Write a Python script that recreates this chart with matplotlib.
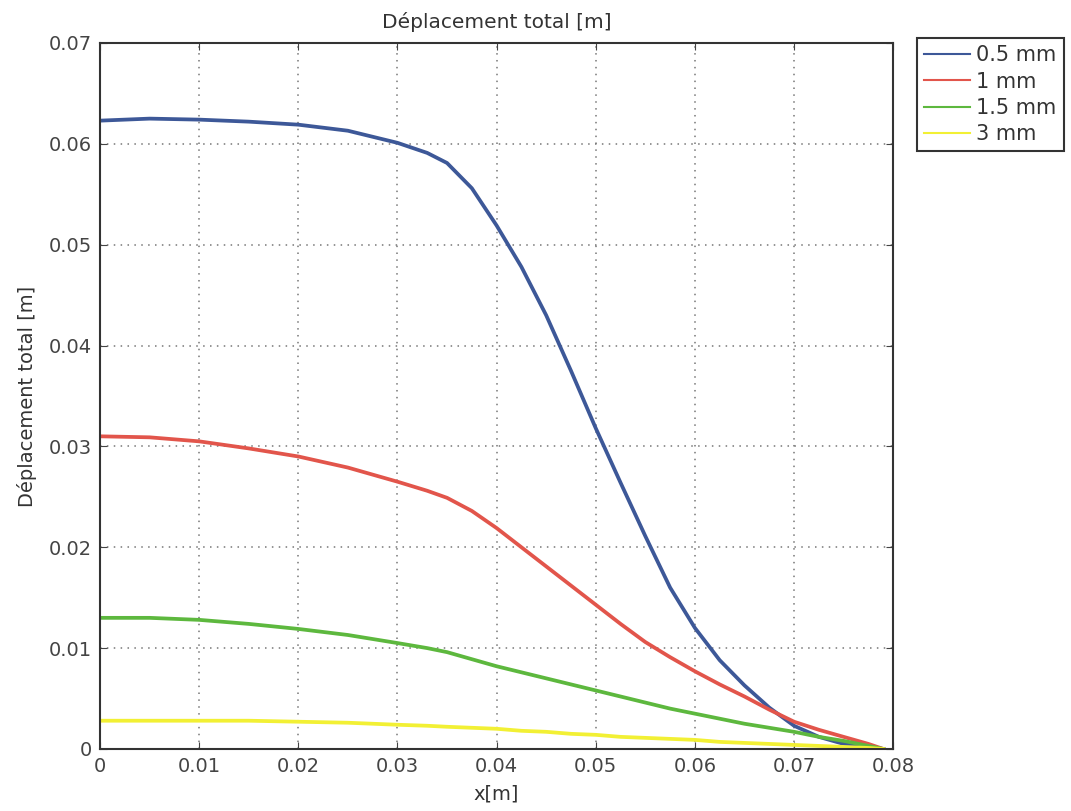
import matplotlib
matplotlib.use('Agg')
import matplotlib.pyplot as plt

# valeurs (x en m, déplacement en m)
x_vals = [0, 0.005, 0.01, 0.015, 0.02, 0.025, 0.03, 0.033, 0.035, 0.0375, 0.04, 0.0425,
          0.045, 0.0475, 0.05, 0.0525, 0.055, 0.0575, 0.06, 0.0625, 0.065, 0.0675, 0.07,
          0.0725, 0.075, 0.0775, 0.079]

dep_05mm = [0.0623, 0.0625, 0.0624, 0.0622, 0.0619, 0.0613, 0.0601, 0.0591, 0.0581, 0.0556,
            0.0519, 0.0478, 0.0430, 0.0375, 0.0318, 0.0264, 0.0211, 0.0160, 0.0120, 0.0088,
            0.0063, 0.0041, 0.0023, 0.0012, 0.0005, 0.0001, 0.0]
dep_1mm = [0.0310, 0.0309, 0.0305, 0.0298, 0.0290, 0.0279, 0.0265, 0.0256, 0.0249, 0.0236,
           0.0219, 0.0200, 0.0181, 0.0162, 0.0143, 0.0124, 0.0106, 0.0091, 0.0077, 0.0064,
           0.0052, 0.0039, 0.0027, 0.0019, 0.0012, 0.0005, 0.0]
dep_15mm = [0.0130, 0.0130, 0.0128, 0.0124, 0.0119, 0.0113, 0.0105, 0.0100, 0.0096, 0.0089,
            0.0082, 0.0076, 0.0070, 0.0064, 0.0058, 0.0052, 0.0046, 0.0040, 0.0035, 0.0030,
            0.0025, 0.0021, 0.0017, 0.0012, 0.0008, 0.0003, 0.0]
dep_3mm = [0.0028, 0.0028, 0.0028, 0.0028, 0.0027, 0.0026, 0.0024, 0.0023, 0.0022, 0.0021,
           0.0020, 0.0018, 0.0017, 0.0015, 0.0014, 0.0012, 0.0011, 0.0010, 0.0009, 0.0007,
           0.0006, 0.0005, 0.0004, 0.0003, 0.0002, 0.0001, 0.0]

labels = ['0.5 mm', '1 mm', '1.5 mm', '3 mm']
couleurs = ['#3d5898', '#e2554b', '#5db83e', '#f2f034']

fig = plt.figure(figsize=(10.71, 8.11), dpi=100)
ax = fig.add_axes([0.0934, 0.0765, 0.7406, 0.8705])

for serie, lab, c in zip([dep_05mm, dep_1mm, dep_15mm, dep_3mm], labels, couleurs):
    ax.plot(x_vals, serie, color=c, lw=2.7, label=lab)

ax.set_xlim(0, 0.08)
ax.set_ylim(0, 0.07)
ax.set_xticks([0, 0.01, 0.02, 0.03, 0.04, 0.05, 0.06, 0.07, 0.08])
ax.set_xticklabels(['0', '0.01', '0.02', '0.03', '0.04', '0.05', '0.06', '0.07', '0.08'])
ax.set_yticks([0, 0.01, 0.02, 0.03, 0.04, 0.05, 0.06, 0.07])
ax.set_yticklabels(['0', '0.01', '0.02', '0.03', '0.04', '0.05', '0.06', '0.07'])
ax.tick_params(direction='in', top=True, right=True, labelsize=14, colors='#444444',
               length=5, pad=6)
ax.grid(True, linestyle=(0, (1, 3.5)), color='#777777', lw=1.1)
for s in ax.spines.values():
    s.set_color('#333333')
    s.set_linewidth(1.5)

ax.set_title('Déplacement total [m]', fontsize=14.5, color='#333333', pad=11)
ax.set_ylabel('Déplacement total [m]', fontsize=14, color='#333333', labelpad=8)
ax.set_xlabel('x[m]', fontsize=14, color='#333333', labelpad=6)

leg = fig.legend(loc='upper left', bbox_to_anchor=(917 / 1071, 1 - 38 / 811), fontsize=15,
                 fancybox=False, framealpha=1, edgecolor='#333333', handlelength=2.2,
                 handletextpad=0.3, borderpad=0.35, borderaxespad=0, labelspacing=0.3)
leg.get_frame().set_linewidth(1.5)
for t in leg.get_texts():
    t.set_color('#333333')
for h in leg.get_lines():
    h.set_linewidth(1.5)

fig.savefig('out.png', dpi=100)
